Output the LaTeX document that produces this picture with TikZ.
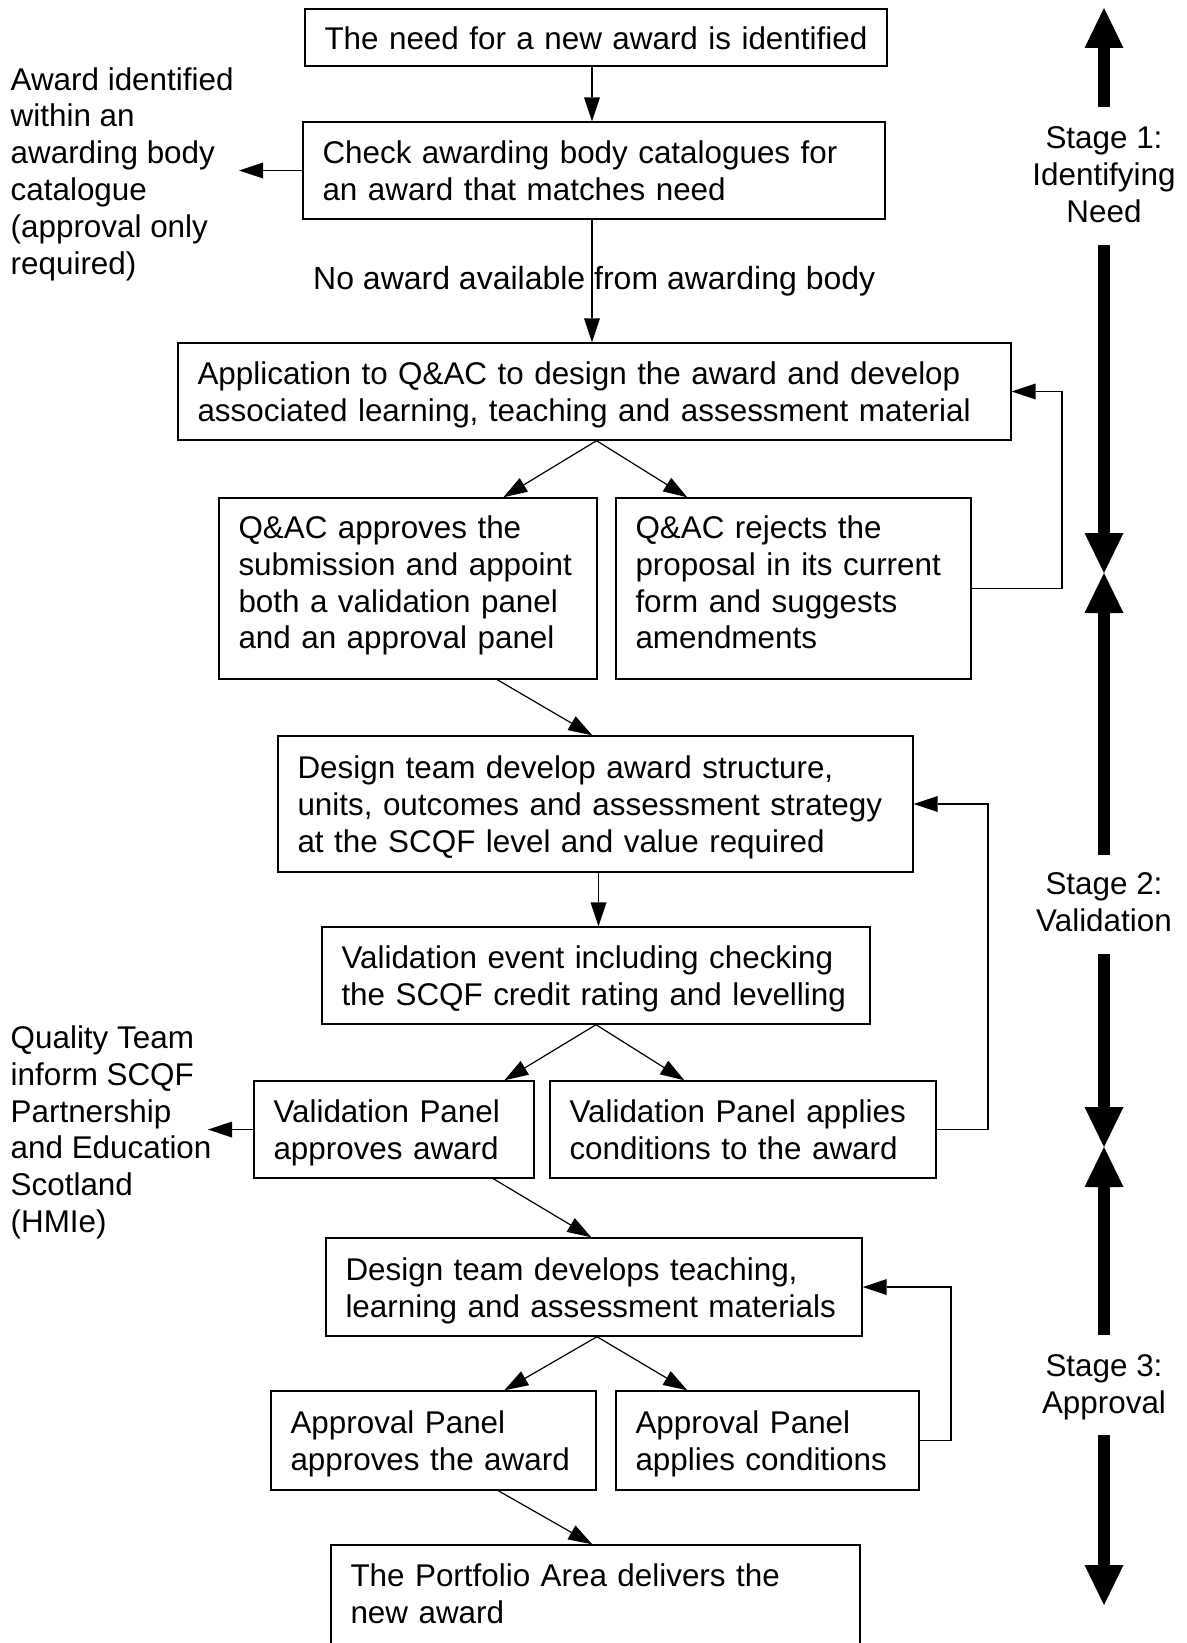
\documentclass[tikz,border=0pt]{standalone}
\usepackage{fontspec}
\setmainfont{Liberation Sans}
\usetikzlibrary{arrows.meta,calc}
\newcommand\Ln[1]{\raisebox{0pt}[23.4pt][0pt]{#1}}
\newcommand\Dp[1]{\rule[-#1]{0pt}{#1}}
\begin{document}
\begin{tikzpicture}[x=1pt,y=-1pt,
  font=\fontsize{31.4}{36.8}\selectfont,
  box/.style={draw, line width=1.4pt, rectangle, inner xsep=19.5pt, inner ysep=0pt, align=left},
  conn/.style={line width=1.2pt, -{Triangle[length=24pt,width=16pt,line width=0pt]}},
  stagearr/.style={line width=12.5pt, -{Triangle[length=40pt,width=39pt,line width=0pt]}},
  plain/.style={inner sep=0pt}]
\useasboundingbox (0,0) rectangle (1186,1643);

% boxes
\node[box, text width=543pt, minimum height=57pt] (b1) at (596,37.5)
  {\Ln{The need for a new award is identified}};
\node[box, text width=543pt, minimum height=97pt] (b2) at (594,170.5)
  {\Ln{Check awarding body catalogues for}\\\Ln{an award that matches need}};
\node[box, text width=794pt, minimum height=97pt] (b3) at (594.5,391.5)
  {\Ln{Application to Q\&AC to design the award and develop}\\\Ln{associated learning, teaching and assessment material}};
\node[box, text width=339pt, minimum height=181pt] (b4a) at (408,588.5)
  {\Ln{Q\&AC approves the}\\\Ln{submission and appoint}\\\Ln{both a validation panel}\\\Ln{and an approval panel}\Dp{13pt}};
\node[box, text width=316pt, minimum height=181pt] (b4b) at (793.5,588.5)
  {\Ln{Q\&AC rejects the}\\\Ln{proposal in its current}\\\Ln{form and suggests}\\\Ln{amendments}\Dp{13pt}};
\node[box, text width=596pt, minimum height=136pt] (b5) at (595.5,804)
  {\Ln{Design team develop award structure,}\\\Ln{units, outcomes and assessment strategy}\\\Ln{at the SCQF level and value required}};
\node[box, text width=509pt, minimum height=97pt] (b6) at (596,975.5)
  {\Ln{Validation event including checking}\\\Ln{the SCQF credit rating and levelling}};
\node[box, text width=241pt, minimum height=97pt] (b7a) at (394,1129.5)
  {\Ln{Validation Panel}\\\Ln{approves award}};
\node[box, text width=347pt, minimum height=97pt] (b7b) at (743,1129.5)
  {\Ln{Validation Panel applies}\\\Ln{conditions to the award}};
\node[box, text width=497pt, minimum height=98pt] (b8) at (594,1287)
  {\Ln{Design team develops teaching,}\\\Ln{learning and assessment materials}};
\node[box, text width=286pt, minimum height=99pt] (b9a) at (433.5,1440.5)
  {\Ln{Approval Panel}\\\Ln{approves the award}};
\node[box, text width=264pt, minimum height=99pt] (b9b) at (767.5,1440.5)
  {\Ln{Approval Panel}\\\Ln{applies conditions}};
\node[box, text width=490pt, minimum height=110.4pt] (b10) at (595.5,1600.2)
  {\Ln{The Portfolio Area delivers the}\\\Ln{new award}\Dp{14pt}};

% side texts
\node[plain, anchor=west, align=left] (leftA) at (10.5,170.4)
  {\Ln{Award identified}\\\Ln{within an}\\\Ln{awarding body}\\\Ln{catalogue}\\\Ln{(approval only}\\\Ln{required)}};
\node[plain, anchor=west, align=left] (leftQ) at (10.5,1128.8)
  {\Ln{Quality Team}\\\Ln{inform SCQF}\\\Ln{Partnership}\\\Ln{and Education}\\\Ln{Scotland}\\\Ln{(HMIe)}};
\node[plain, anchor=base west, font=\fontsize{32}{36.8}\selectfont] (nolbl) at (313,289.5) {No award available from awarding body};

% stage labels
\node[plain, align=center] (st1) at (1104,173.5) {\Ln{Stage 1:}\\\Ln{Identifying}\\\Ln{Need}};
\node[plain, align=center] (st2) at (1104,901.5) {\Ln{Stage 2:}\\\Ln{Validation}};
\node[plain, align=center] (st3) at (1104,1383) {\Ln{Stage 3:}\\\Ln{Approval}};

% free ends
\coordinate (atip) at (239,170.5);
\coordinate (qtip) at (208,1129.5);
\coordinate (f1) at (1062,391.5);
\coordinate (f2) at (988,804);
\coordinate (f3) at (951,1287);

% connectors
\draw[conn] ([xshift=-4pt]b1.south) -- ([xshift=-4pt]b1.south |- b2.north);
\draw[conn] ([xshift=-2pt]b2.south) -- ([xshift=-2pt]b2.south |- b3.north);
\draw[conn] (b2.west) -- (atip);
\draw[conn] ([xshift=2pt]b3.south) -- ([xshift=285pt]b4a.north west);
\draw[conn] ([xshift=2pt]b3.south) -- ([xshift=72pt]b4b.north west);
\draw[conn] (b4b.east) -| (f1) -- (b3.east);
\draw[conn] ([xshift=279pt]b4a.south west) -- ([xshift=315pt]b5.north west);
\draw[conn] ([xshift=3pt]b5.south) -- ([xshift=3pt]b5.south |- b6.north);
\draw[conn] (b6.south) -- ([xshift=251pt]b7a.north west);
\draw[conn] (b6.south) -- ([xshift=135pt]b7b.north west);
\draw[conn] (b7a.west) -- (qtip);
\draw[conn] (b7b.east) -| (f2) -- (b5.east);
\draw[conn] ([xshift=240pt]b7a.south west) -- ([xshift=266pt]b8.north west);
\draw[conn] ([xshift=3pt]b8.south) -- ([xshift=234pt]b9a.north west);
\draw[conn] ([xshift=3pt]b8.south) -- ([xshift=72pt]b9b.north west);
\draw[conn] (b9b.east) -| (f3) -- (b8.east);
\draw[conn] ([xshift=228pt]b9a.south west) -- ([xshift=262pt]b10.north west);

% stage arrows
\coordinate (s1a) at (1104,107);  \coordinate (s1t) at (1104,8);
\coordinate (s1b) at (1104,245);  \coordinate (s12) at (1104,573);
\coordinate (s2a) at (1104,855);
\coordinate (s2b) at (1104,954);  \coordinate (s23) at (1104,1147);
\coordinate (s3a) at (1104,1335);
\coordinate (s3b) at (1104,1435); \coordinate (s3t) at (1104,1605);
\draw[stagearr] (s1a) -- (s1t);
\draw[stagearr] (s1b) -- (s12);
\draw[stagearr] (s2a) -- (s12);
\draw[stagearr] (s2b) -- (s23);
\draw[stagearr] (s3a) -- (s23);
\draw[stagearr] (s3b) -- (s3t);
\end{tikzpicture}
\end{document}
